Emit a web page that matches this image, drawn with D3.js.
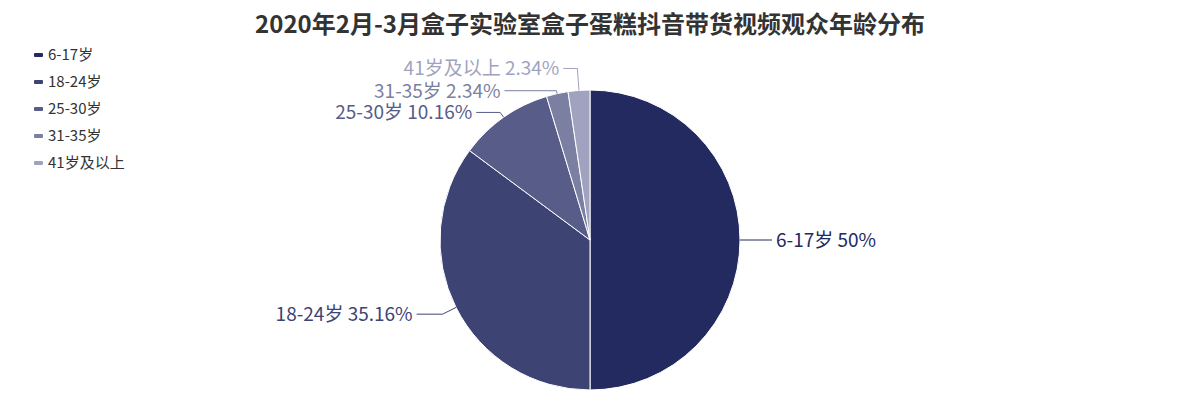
<!DOCTYPE html>
<html><head><meta charset="utf-8">
<script src="https://cdn.jsdelivr.net/npm/d3@7"></script>
<style>body{margin:0;background:#fff}</style>
</head><body>
<svg id="c" width="1180" height="400"></svg>
<script>
var categories = ["6-17岁", "18-24岁", "25-30岁", "31-35岁", "41岁及以上"];
var values = [50, 35.16, 10.16, 2.34, 2.34];
var colors = ["#232a5f", "#3d4474", "#575c89", "#7b7fa2", "#a0a3bf"];

var svg = d3.select("#c");
var font = "'Microsoft YaHei','Noto Sans CJK SC',sans-serif";
var cx = 590, cy = 240, r = 150;
var elbowR = [160, 165, 156, 153, 172];
var legLen = [22, 26, 24, 52, 14];

svg.append("text").attr("x", 590).attr("y", 33).attr("text-anchor", "middle")
  .attr("font-family", font).attr("font-size", 24).attr("font-weight", "bold")
  .attr("fill", "#333").text("2020年2月-3月盒子实验室盒子蛋糕抖音带货视频观众年龄分布");

var data = categories.map(function (c, i) { return {name: c, value: values[i], i: i}; });
var pie = d3.pie().value(function (d) { return d.value; }).sort(null);
var arc = d3.arc().innerRadius(0).outerRadius(r);
var arcs = pie(data);
var g = svg.append("g").attr("transform", "translate(" + cx + "," + cy + ")");

g.selectAll("path").data(arcs).enter().append("path")
  .attr("d", arc).attr("fill", function (d) { return colors[d.data.i]; })
  .attr("stroke", "#fff").attr("stroke-width", 1);

arcs.forEach(function (d) {
  var a = (d.startAngle + d.endAngle) / 2;
  var p1 = [Math.sin(a) * r, -Math.cos(a) * r];
  var re = elbowR[d.data.i];
  var p2 = [Math.sin(a) * re, -Math.cos(a) * re];
  var right = Math.sin(a) > 0.01;
  var L = legLen[d.data.i];
  var p3 = [p2[0] + (right ? L : -L), p2[1]];
  var col = colors[d.data.i];
  g.append("polyline").attr("points", [p1, p2, p3].map(function (p) { return p.join(","); }).join(" "))
    .attr("fill", "none").attr("stroke", col).attr("stroke-width", 1);
  g.append("text").attr("x", p3[0] + (right ? 4 : -4)).attr("y", p3[1] + 7)
    .attr("text-anchor", right ? "start" : "end")
    .attr("font-family", font).attr("font-size", 19).attr("fill", col)
    .text(d.data.name + " " + d.data.value + "%");
});

var lg = svg.append("g");
categories.forEach(function (c, i) {
  var y = 55 + i * 27;
  lg.append("rect").attr("x", 34).attr("y", y - 2).attr("width", 9).attr("height", 4)
    .attr("rx", 1).attr("fill", colors[i]);
  lg.append("text").attr("x", 48).attr("y", y + 5).attr("font-family", font)
    .attr("font-size", 15).attr("fill", "#333").text(c);
});
</script>
</body></html>
